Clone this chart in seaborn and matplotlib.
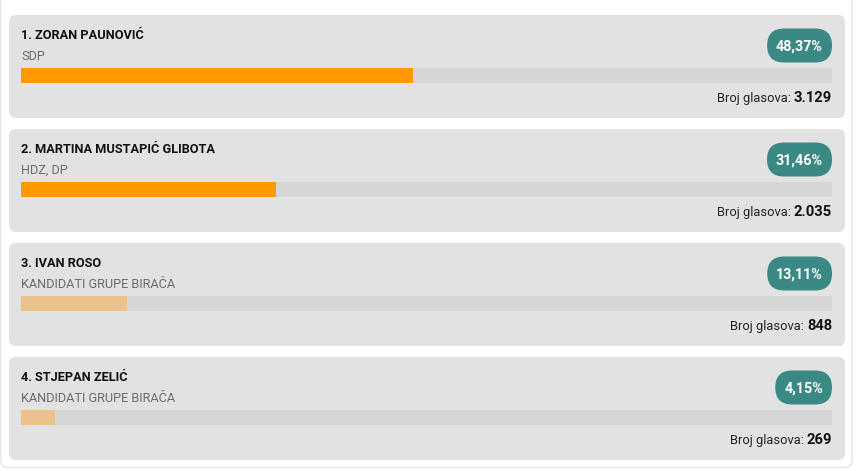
import matplotlib
matplotlib.use("Agg")
import matplotlib.pyplot as plt
from matplotlib.patches import FancyBboxPatch
import pandas as pd
import seaborn as sns

# Election results
names = ["1. ZORAN PAUNOVIĆ", "2. MARTINA MUSTAPIĆ GLIBOTA", "3. IVAN ROSO", "4. STJEPAN ZELIĆ"]
parties = ["SDP", "HDZ, DP", "KANDIDATI GRUPE BIRAČA", "KANDIDATI GRUPE BIRAČA"]
percents = [48.37, 31.46, 13.11, 4.15]
votes = [3129, 2035, 848, 269]

# Styling
W, H, DPI = 858, 471, 100
CARD_BG = "#e2e2e2"
TRACK = "#d6d6d6"
LEAD = "#ff9900"
REST = "#ecc28c"
BADGE = "#3b8985"
N_LEAD = 2
FONT = "Roboto"

sns.set_theme(style="white")
plt.rcParams["font.family"] = [FONT, "DejaVu Sans"]

fig = plt.figure(figsize=(W / DPI, H / DPI), dpi=DPI)
fig.patch.set_facecolor("white")

# Background axes in pixel coordinates
bg = fig.add_axes([0, 0, 1, 1])
bg.set_xlim(0, W)
bg.set_ylim(H, 0)
bg.axis("off")

# Outer frame
bg.add_patch(FancyBboxPatch((0.5, -10), 851.5, 477.5,
                            boxstyle="round,pad=0,rounding_size=8",
                            fc="white", ec="#e8e8e8", lw=1.2, zorder=0))

card_x0, card_x1 = 9, 845
card_top0, card_h, step = 15, 103, 114
track_x0, track_x1 = 21, 832

fig.canvas.draw()
renderer = fig.canvas.get_renderer()


def text_width_px(t):
    bb = t.get_window_extent(renderer=renderer)
    return bb.width


for i, (nm, pt, pc, v) in enumerate(zip(names, parties, percents, votes)):
    top = card_top0 + i * step
    bg.add_patch(FancyBboxPatch((card_x0, top), card_x1 - card_x0, card_h,
                                boxstyle="round,pad=0,rounding_size=7",
                                fc=CARD_BG, ec="none", zorder=1))
    bg.text(track_x0, top + 24, nm, fontsize=9.15, fontweight="bold",
            color="#111111", va="baseline", ha="left", zorder=3)
    bg.text(track_x0, top + 45, pt, fontsize=9.2, color="#6b6b6b",
            va="baseline", ha="left", zorder=3)

    # Percentage badge
    label = f"{pc:.2f}".replace(".", ",") + "%"
    t = bg.text(track_x1 - 9, top + 36, label, fontsize=10.3, fontweight="bold",
                color="white", va="baseline", ha="right", zorder=4)
    tw = text_width_px(t)
    bw = tw + 18
    bh = 34
    bg.add_patch(FancyBboxPatch((track_x1 - bw, top + 13.5), bw, bh,
                                boxstyle=f"round,pad=0,rounding_size={bh / 2}",
                                fc=BADGE, ec="none", zorder=3))

    # Vote count
    num = f"{v:,}".replace(",", ".")
    tn = bg.text(track_x1, top + 87, num, fontsize=10.6, fontweight="bold",
                 color="#111111", va="baseline", ha="right", zorder=3)
    nw = text_width_px(tn)
    bg.text(track_x1 - nw - 3, top + 87, "Broj glasova:", fontsize=9.3,
            color="#222222", va="baseline", ha="right", zorder=3)

# Progress bars on their own axes
center0 = 75.5
ax_top = center0 - step / 2
ax_h = step * len(names)
ax = fig.add_axes([track_x0 / W, 1 - (ax_top + ax_h) / H,
                   (track_x1 - track_x0) / W, ax_h / H])
ax.patch.set_alpha(0)

df = pd.DataFrame({"name": names, "pct": percents})
bar_w = 14.5 / step
sns.barplot(data=df.assign(full=100), x="full", y="name", orient="h",
            color=TRACK, width=bar_w, ax=ax, saturation=1, zorder=2)
colors = [LEAD if i < N_LEAD else REST for i in range(len(names))]
sns.barplot(data=df, x="pct", y="name", hue="name", palette=colors, orient="h",
            width=bar_w, ax=ax, saturation=1, legend=False, dodge=False, zorder=3)
for p in ax.patches:
    p.set_linewidth(0)

ax.set_xlim(0, 100)
ax.set_ylim(len(names) - 0.5, -0.5)
ax.axis("off")

fig.savefig("out.png", dpi=DPI, facecolor="white")
